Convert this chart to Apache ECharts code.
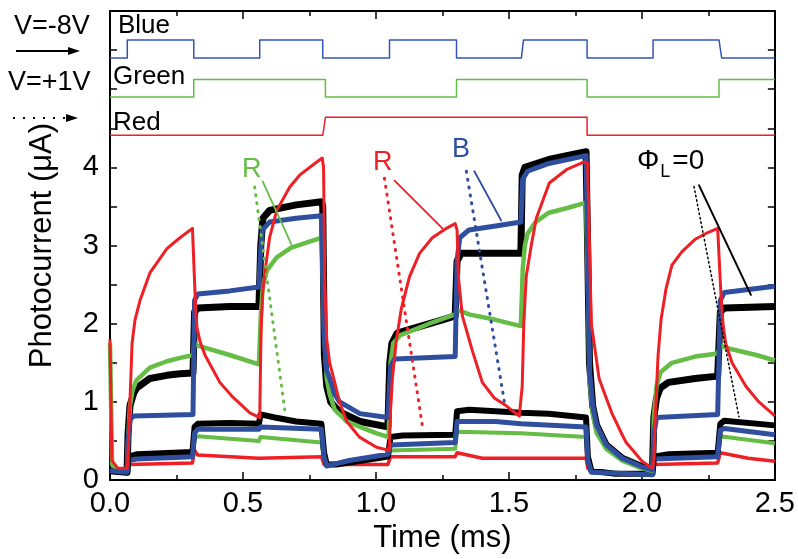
<!DOCTYPE html>
<html><head><meta charset="utf-8">
<script src="https://cdn.jsdelivr.net/npm/echarts@6/dist/echarts.min.js"></script>
<style>html,body{margin:0;padding:0;background:#fff}#c{width:798px;height:559px}</style>
</head><body><div id="c"></div>
<script>
// ---------- data (time in ms, photocurrent in µA) ----------
const yTickLabels = {0:'0',1:'1',2:'2',3:'3',4:'4'};

// Illumination state traces (drawn at top of plot)
const blueState = [[0,5.40],[0.065,5.40],[0.065,5.63],[0.315,5.63],[0.315,5.40],[0.563,5.40],[0.563,5.63],[0.80,5.63],[0.80,5.40],[1.051,5.40],[1.051,5.63],[1.303,5.63],[1.303,5.40],[1.547,5.40],[1.555,5.63],[1.794,5.63],[1.794,5.40],[2.042,5.40],[2.042,5.63],[2.29,5.63],[2.30,5.40],[2.5,5.40]];
const greenState = [[0,4.90],[0.315,4.90],[0.315,5.125],[0.81,5.125],[0.81,4.90],[1.303,4.90],[1.303,5.125],[1.794,5.125],[1.794,4.90],[2.29,4.90],[2.29,5.125],[2.5,5.125]];
const redState = [[0,4.41],[0.80,4.41],[0.81,4.64],[1.794,4.64],[1.794,4.41],[2.5,4.41]];

// V = -8 V traces
const blackHigh = [[0,0.12],[0.064,0.10],[0.068,0.6],[0.075,0.95],[0.09,1.12],[0.101,1.18],[0.15,1.30],[0.214,1.34],[0.263,1.36],[0.312,1.37],
 [0.318,2.15],[0.33,2.20],[0.45,2.22],[0.56,2.22],
 [0.567,3.0],[0.575,3.35],[0.60,3.45],[0.70,3.52],[0.795,3.56],
 [0.80,3.5],[0.806,1.6],[0.815,1.2],[0.83,1.0],[0.86,0.88],[0.94,0.75],[1.045,0.68],
 [1.052,1.5],[1.06,1.75],[1.08,1.88],[1.15,1.95],[1.25,2.05],[1.298,2.1],
 [1.305,2.8],[1.32,2.9],[1.45,2.9],[1.545,2.9],
 [1.55,3.9],[1.56,4.0],[1.65,4.1],[1.79,4.2],
 [1.796,3.0],[1.803,1.5],[1.815,0.95],[1.83,0.7],[1.866,0.45],[1.926,0.28],[2.0,0.17],[2.04,0.14],
 [2.045,0.8],[2.055,1.05],[2.07,1.18],[2.1,1.25],[2.2,1.3],[2.285,1.33],
 [2.295,2.15],[2.31,2.2],[2.5,2.22]];
const blueHigh = [[0,0.12],[0.064,0.10],[0.068,0.5],[0.075,0.78],[0.09,0.82],[0.312,0.84],
 [0.318,2.3],[0.33,2.38],[0.45,2.42],[0.56,2.47],
 [0.566,2.9],[0.573,3.2],[0.60,3.3],[0.70,3.35],[0.795,3.38],
 [0.806,1.8],[0.815,1.4],[0.826,1.3],[0.845,1.1],[0.863,1.0],[0.94,0.85],[1.045,0.8],
 [1.055,1.45],[1.07,1.55],[1.298,1.58],
 [1.305,2.8],[1.315,3.1],[1.35,3.2],[1.45,3.25],[1.545,3.3],
 [1.552,3.85],[1.57,3.95],[1.65,4.05],[1.79,4.15],
 [1.797,2.8],[1.803,1.4],[1.815,0.95],[1.83,0.7],[1.866,0.45],[1.926,0.28],[2.0,0.17],[2.04,0.13],
 [2.046,0.6],[2.055,0.8],[2.285,0.84],
 [2.295,2.3],[2.31,2.4],[2.5,2.48]];
const greenHigh = [[0,1.75],[0.008,0.2],[0.03,0.13],[0.064,0.12],[0.068,0.5],[0.075,0.95],[0.085,1.15],[0.10,1.28],[0.15,1.44],[0.214,1.52],[0.26,1.56],[0.312,1.6],
 [0.317,1.75],[0.33,1.72],[0.45,1.6],[0.56,1.48],
 [0.567,2.1],[0.575,2.5],[0.59,2.68],[0.627,2.85],[0.68,2.97],[0.75,3.05],[0.797,3.1],
 [0.805,1.9],[0.815,1.3],[0.826,1.1],[0.845,0.9],[0.89,0.75],[0.94,0.68],[1.0,0.6],[1.048,0.55],
 [1.055,1.5],[1.065,1.75],[1.09,1.85],[1.2,2.0],[1.298,2.12],
 [1.305,2.18],[1.35,2.12],[1.45,2.05],[1.545,1.97],
 [1.552,2.7],[1.56,3.0],[1.57,3.15],[1.60,3.3],[1.65,3.42],[1.72,3.48],[1.79,3.55],
 [1.797,2.5],[1.803,1.3],[1.815,0.85],[1.83,0.6],[1.866,0.4],[1.926,0.25],[2.0,0.15],[2.04,0.12],
 [2.045,0.8],[2.055,1.2],[2.07,1.38],[2.113,1.5],[2.2,1.58],[2.285,1.62],
 [2.295,1.72],[2.33,1.68],[2.43,1.6],[2.5,1.53]];
const redHigh = [[0,1.8],[0.007,0.25],[0.03,0.15],[0.064,0.15],
 [0.066,0.2],[0.075,1.0],[0.083,1.75],[0.094,2.05],[0.113,2.3],[0.15,2.65],[0.214,2.96],[0.263,3.1],[0.31,3.22],
 [0.316,3.2],[0.322,2.2],[0.327,1.95],[0.338,1.78],[0.357,1.6],[0.413,1.25],[0.462,1.06],[0.526,0.86],[0.563,0.8],
 [0.568,1.9],[0.574,2.4],[0.586,2.75],[0.60,3.1],[0.627,3.45],[0.676,3.75],[0.713,3.9],[0.77,4.05],[0.798,4.12],
 [0.803,4.0],[0.808,2.5],[0.815,1.8],[0.826,1.5],[0.845,1.25],[0.863,1.0],[0.89,0.75],[0.938,0.55],[1.002,0.42],[1.05,0.38],
 [1.055,0.9],[1.062,1.3],[1.077,1.8],[1.096,2.2],[1.126,2.6],[1.164,2.9],[1.212,3.1],[1.265,3.22],[1.298,3.28],
 [1.305,3.2],[1.31,2.6],[1.325,2.1],[1.363,1.65],[1.40,1.25],[1.445,1.05],[1.49,0.95],[1.539,0.82],
 [1.55,1.2],[1.556,2.0],[1.565,2.6],[1.584,3.0],[1.603,3.35],[1.652,3.8],[1.716,3.97],[1.783,4.07],
 [1.796,4.05],[1.803,3.0],[1.81,2.0],[1.828,1.57],[1.839,1.3],[1.866,1.05],[1.888,0.85],[1.926,0.58],[1.941,0.48],[2.001,0.24],[2.04,0.15],
 [2.045,0.25],[2.05,0.8],[2.061,1.6],[2.072,2.05],[2.091,2.45],[2.113,2.75],[2.15,2.92],[2.2,3.08],[2.25,3.17],[2.285,3.22],
 [2.292,3.2],[2.297,2.4],[2.305,2.0],[2.315,1.75],[2.339,1.5],[2.391,1.2],[2.44,1.0],[2.5,0.82]];

// V = +1 V traces
const blackLow = [[0,0.12],[0.064,0.10],[0.07,0.30],[0.10,0.33],[0.31,0.36],
 [0.318,0.68],[0.33,0.72],[0.45,0.73],[0.56,0.72],
 [0.566,0.84],[0.62,0.80],[0.70,0.75],[0.795,0.72],
 [0.805,0.35],[0.815,0.20],[0.85,0.20],[0.95,0.25],[1.045,0.30],
 [1.055,0.55],[1.10,0.57],[1.298,0.58],
 [1.305,0.88],[1.35,0.90],[1.45,0.88],[1.545,0.86],
 [1.552,0.88],[1.65,0.85],[1.79,0.80],
 [1.797,0.30],[1.81,0.12],[1.90,0.08],[2.04,0.08],
 [2.045,0.30],[2.10,0.33],[2.285,0.35],
 [2.295,0.72],[2.31,0.76],[2.5,0.70]];
const blueLow = [[0,0.12],[0.064,0.10],[0.07,0.25],[0.10,0.27],[0.31,0.30],
 [0.318,0.60],[0.33,0.65],[0.56,0.65],
 [0.566,0.68],[0.795,0.65],
 [0.805,0.30],[0.815,0.18],[0.90,0.25],[1.045,0.33],
 [1.055,0.45],[1.298,0.48],
 [1.305,0.75],[1.45,0.75],[1.545,0.72],
 [1.552,0.72],[1.79,0.68],
 [1.797,0.25],[1.81,0.10],[2.04,0.07],
 [2.045,0.27],[2.285,0.30],
 [2.295,0.64],[2.31,0.66],[2.5,0.58]];
const greenLow = [[0,0.12],[0.064,0.10],[0.07,0.28],[0.31,0.32],
 [0.318,0.55],[0.33,0.56],[0.56,0.50],
 [0.566,0.55],[0.795,0.48],
 [0.805,0.28],[0.815,0.20],[1.045,0.30],
 [1.055,0.38],[1.298,0.40],
 [1.305,0.62],[1.545,0.60],
 [1.552,0.58],[1.79,0.55],
 [1.797,0.25],[1.81,0.10],[2.04,0.08],
 [2.045,0.28],[2.285,0.32],
 [2.295,0.56],[2.5,0.47]];
const redLow = [[0,0.10],[0.064,0.10],[0.07,0.20],[0.31,0.22],
 [0.318,0.38],[0.33,0.32],[0.56,0.28],
 [0.566,0.30],[0.795,0.30],
 [0.805,0.20],[1.045,0.20],
 [1.055,0.30],[1.298,0.30],
 [1.305,0.35],[1.40,0.28],[1.545,0.28],
 [1.552,0.30],[1.79,0.28],
 [1.797,0.15],[1.82,0.10],[2.04,0.08],
 [2.045,0.20],[2.285,0.22],
 [2.295,0.35],[2.40,0.28],[2.5,0.24]];

// annotation pointers (data coordinates)
const greenPointerSolid = [[0.574,3.82],[0.683,3.01]];
const greenPointerDot = [[0.544,3.75],[0.657,0.90]];
const redPointerSolid = [[1.070,3.83],[1.250,3.22]];
const redPointerDot = [[1.032,3.86],[1.175,0.685]];
const bluePointerSolid = [[1.370,3.95],[1.471,3.32]];
const bluePointerDot = [[1.340,3.95],[1.483,1.00]];
const blackPointerSolid = [[2.215,3.77],[2.410,2.37]];
const blackPointerDot = [[2.196,3.755],[2.365,0.81]];

// ---------- chart ----------
const C = {black:'#000000', blue:'#2f4e9e', green:'#66bd45', red:'#ee1f25'};
const FONT = "'Liberation Sans', Arial, sans-serif";

function trace(data, color, width, z) {
  return {type:'line', data, showSymbol:false, symbol:'none', silent:true, z:z||2,
    lineStyle:{color, width, join:'round'}, animation:false};
}
function pointer(p, color, dotted, width, dash) {
  return {type:'line', data:[], silent:true, animation:false, z:6,
    markLine:{silent:true, symbol:['none','none'], animation:false, label:{show:false},
      lineStyle:{color, width, type: dotted ? dash : 'solid', cap:'round'},
      emphasis:{disabled:true},
      data:[[{coord:p[0]},{coord:p[1]}]]}};
}

const chart = echarts.init(document.getElementById('c'), null, {renderer:'canvas'});
const axisLineStyle = {color:'#000', width:2};
chart.setOption({
  animation:false,
  backgroundColor:'#fff',
  grid:{left:110, right:22, top:11, bottom:75, containLabel:false},
  xAxis:[{type:'value', min:0, max:2.5, interval:0.5, position:'bottom',
      axisLine:{lineStyle:axisLineStyle, onZero:false},
      axisTick:{inside:true, length:8, lineStyle:{color:'#000', width:1.5}},
      minorTick:{show:true, splitNumber:2, length:5, lineStyle:{color:'#000', width:1.5}},
      splitLine:{show:false},
      axisLabel:{formatter:v=>v.toFixed(1), fontSize:29, color:'#000', fontFamily:FONT, margin:9},
      name:'Time (ms)', nameLocation:'middle', nameGap:42,
      nameTextStyle:{fontSize:31, color:'#000', fontFamily:FONT}},
    {type:'value', min:0, max:2.5, interval:0.5, position:'top',
      axisLine:{lineStyle:axisLineStyle, onZero:false},
      axisTick:{inside:true, length:8, lineStyle:{color:'#000', width:1.5}},
      minorTick:{show:true, splitNumber:2, length:5, lineStyle:{color:'#000', width:1.5}},
      splitLine:{show:false}, axisLabel:{show:false}}],
  yAxis:[{type:'value', min:0, max:6, interval:0.5, position:'left',
      axisLine:{show:true, lineStyle:axisLineStyle, onZero:false},
      axisTick:{show:true, inside:true, length:7, lineStyle:{color:'#000', width:1.5}},
      splitLine:{show:false},
      axisLabel:{formatter:v=> (yTickLabels[v]!==undefined ? yTickLabels[v] : ''), fontSize:29, color:'#000', fontFamily:FONT, margin:11},
      name:'Photocurrent (\u03bcA)', nameLocation:'middle', nameGap:52, nameRotate:90,
      nameTextStyle:{fontSize:31, color:'#000', fontFamily:FONT}},
    {type:'value', min:0, max:6, interval:0.5, position:'right',
      axisLine:{show:true, lineStyle:axisLineStyle, onZero:false},
      axisTick:{show:true, inside:true, length:7, lineStyle:{color:'#000', width:1.5}},
      splitLine:{show:false}, axisLabel:{show:false}}],
  series:[
    trace(blueState, '#3355b5', 1.5, 3),
    trace(greenState, C.green, 1.5, 3),
    trace(redState, C.red, 1.5, 3),
    trace(redLow, C.red, 3.5, 2),
    trace(greenLow, C.green, 4, 2),
    trace(blackLow, C.black, 6, 2),
    trace(blueLow, C.blue, 5, 2),
    trace(blackHigh, C.black, 7, 3),
    trace(greenHigh, C.green, 4.5, 3),
    trace(blueHigh, C.blue, 5, 3),
    trace(redHigh, C.red, 3, 4),
    pointer(greenPointerSolid, C.green, false, 1.8),
    pointer(greenPointerDot, C.green, true, 3, [1,7]),
    pointer(redPointerSolid, C.red, false, 1.8),
    pointer(redPointerDot, C.red, true, 3, [1,7]),
    pointer(bluePointerSolid, C.blue, false, 1.8),
    pointer(bluePointerDot, C.blue, true, 3, [1,7]),
    pointer(blackPointerSolid, C.black, false, 2),
    pointer(blackPointerDot, C.black, true, 1.5, [1.5,3])
  ],
  graphic:[
    {type:'text', left:14, top:13, style:{text:'V=-8V', font:`27px ${FONT}`, fill:'#000'}},
    {type:'line', shape:{x1:16, y1:51, x2:72, y2:51}, style:{stroke:'#000', lineWidth:2}},
    {type:'polygon', shape:{points:[[80,51],[68,47],[68,55]]}, style:{fill:'#000'}},
    {type:'text', left:8, top:69, style:{text:'V=+1V', font:`27px ${FONT}`, fill:'#000'}},
    {type:'line', shape:{x1:13, y1:118, x2:68, y2:118}, style:{stroke:'#000', lineWidth:2, lineDash:[2,8]}},
    {type:'polygon', shape:{points:[[78,118],[66,114],[66,122]]}, style:{fill:'#000'}},
    {type:'text', left:118, top:13, style:{text:'Blue', font:`26px ${FONT}`, fill:'#000'}, z:10},
    {type:'text', left:113, top:64, style:{text:'Green', font:`26px ${FONT}`, fill:'#000'}, z:10},
    {type:'text', left:113, top:110, style:{text:'Red', font:`26px ${FONT}`, fill:'#000'}, z:10},
    {type:'text', left:242, top:156, style:{text:'R', font:`27px ${FONT}`, fill:C.green}, z:10},
    {type:'text', left:373, top:149, style:{text:'R', font:`27px ${FONT}`, fill:C.red}, z:10},
    {type:'text', left:452, top:136, style:{text:'B', font:`27px ${FONT}`, fill:C.blue}, z:10},
    {type:'text', left:637, top:147, z:10, style:{text:'{a|\u03a6}{s|L}{a|=0}', fill:'#000',
      rich:{a:{font:`28px ${FONT}`, fill:'#000'}, s:{font:`18px ${FONT}`, fill:'#000', padding:[22,2,0,1]}}}}
  ]
});
</script></body></html>
